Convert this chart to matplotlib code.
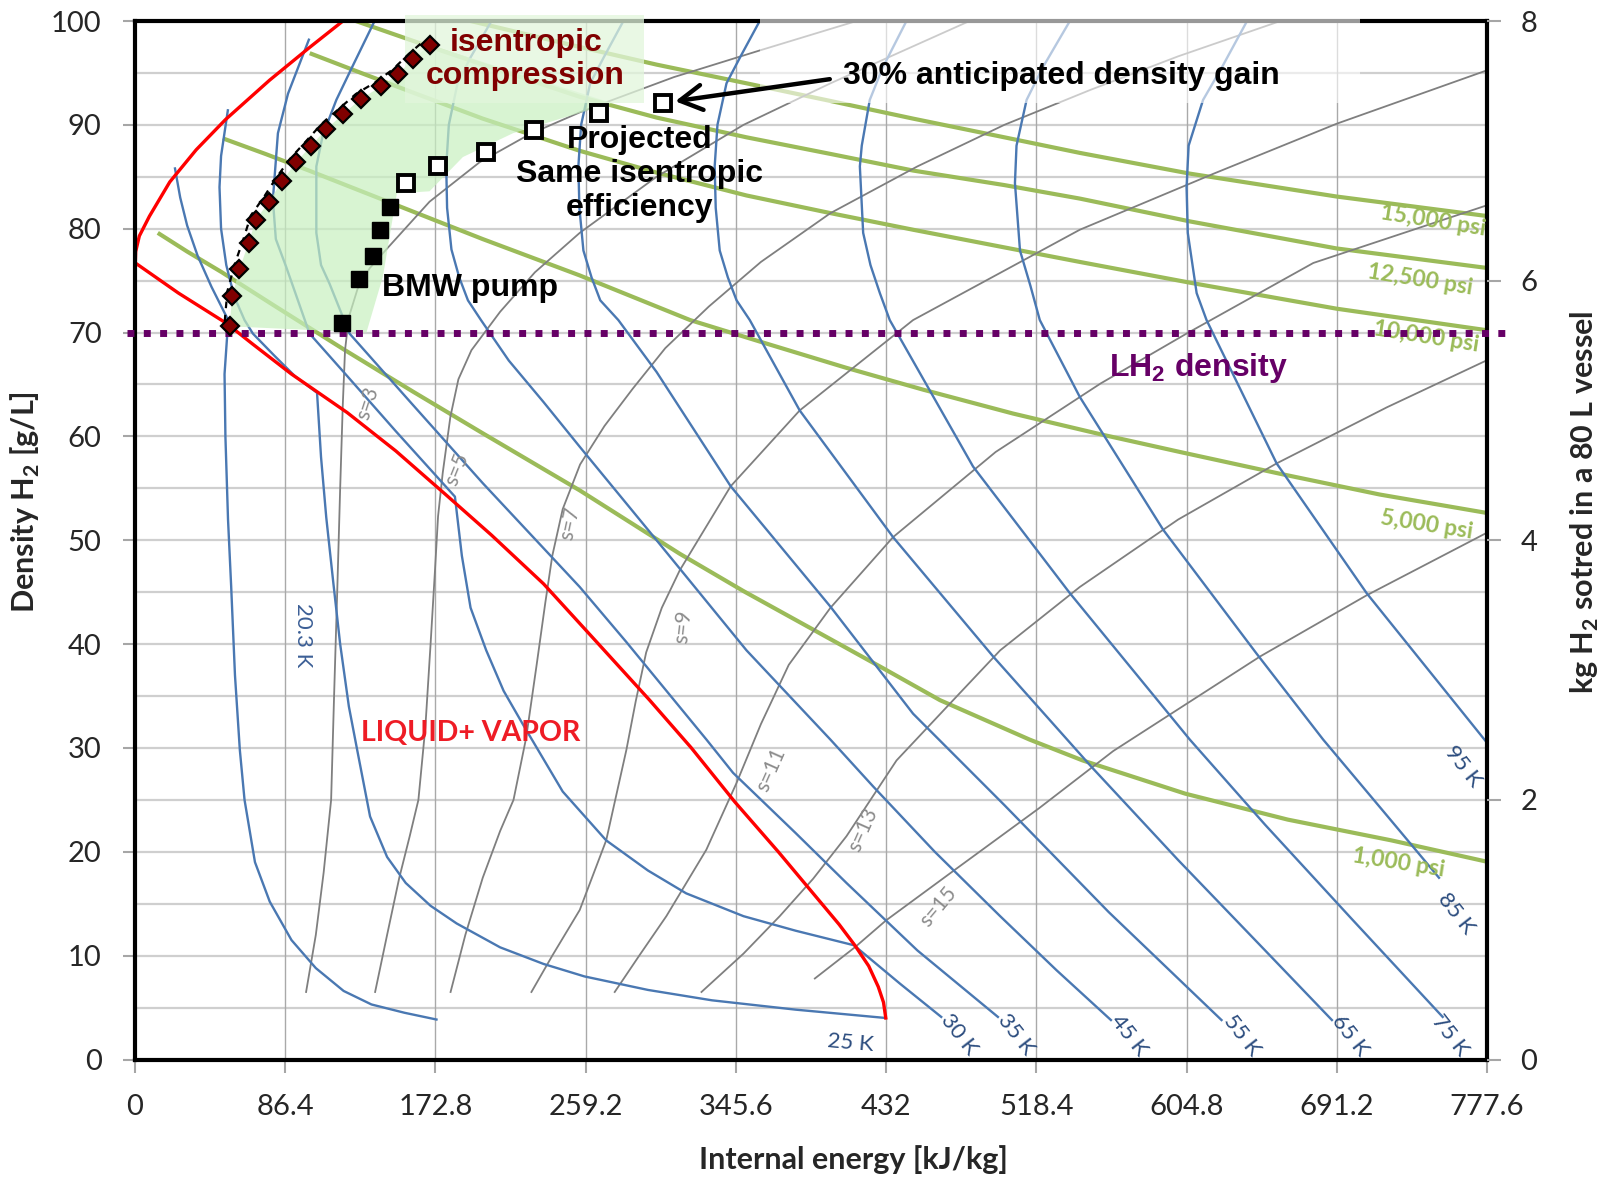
import numpy as np
import matplotlib
matplotlib.use('Agg')
import matplotlib.pyplot as plt
from matplotlib.patches import Rectangle, Polygon
import matplotlib.transforms as mtransforms

plt.rcParams['font.family'] = ['Lato', 'DejaVu Sans']
BOLD = ['Liberation Sans', 'DejaVu Sans']

# --- values: internal energy u [kJ/kg], density rho [g/L] ---

# melting line + saturated liquid line (red)
SAT_U = [119.6, 100, 77.4, 52, 35.2, 20, 8.3, 2.5, 0.4, 0.2, 25, 52.5, 67.6, 90, 122, 150, 178,
         205, 235, 265, 296, 320, 345, 370, 390, 405, 414, 422, 427.5, 430.5, 431.8]
SAT_RHO = [100, 97.4, 94.3, 90.5, 87.6, 84.5, 81.2, 79.3, 77.8, 76.7, 73.8, 70.9, 68.9, 66, 62.3, 58.6, 54.5,
           50.5, 45.8, 40.3, 34.6, 30, 24.8, 20, 16, 13, 11, 9, 7, 5.5, 4]

# isotherms (blue)
T20_LIQ_U = [23, 26, 30, 36, 44, 54.5]
T20_LIQ_RHO = [85.8, 83, 80.3, 77.4, 74.4, 70.9]
T20_U = [53.5, 51.5, 52, 53.5, 55.3, 57.5, 60.3, 63, 69, 77.5, 90, 104, 120, 136, 155, 173.4]
T20_RHO = [70.9, 66, 60, 52, 45.6, 37, 29.8, 25, 19, 15.2, 11.5, 8.8, 6.6, 5.3, 4.5, 3.85]
T25_U = [53.4, 49.5, 48.6, 49.5, 52.5, 57, 63, 67.8, 80, 92, 104.7, 107, 110, 114, 118, 123, 127.8,
         135.2, 145, 155.7, 170, 185, 210, 235, 258.5, 295, 331.8, 380, 431.6]
T25_RHO = [91.4, 87, 84, 80, 76.5, 73.5, 71.2, 69.9, 67.8, 65.8, 64.2, 58, 52.2, 46, 40, 34, 29.8,
           23.4, 19.5, 17, 14.8, 13.1, 10.8, 9.2, 8, 6.7, 5.7, 4.8, 4]
T30_U = [100, 88, 82.2, 79.3, 81, 87, 100.4, 120, 150, 184, 188, 193, 202, 212, 223, 246, 271, 295,
         317, 350, 380, 413.5, 440, 463.7]
T30_RHO = [98.2, 93, 89.2, 82.8, 79, 76.3, 69.9, 66.2, 60.5, 54.2, 48.5, 43.5, 39.4, 35.5, 32.3, 25.8,
           21.1, 18.2, 16, 13.8, 12.4, 11, 7.3, 4.1]
T35_U = [137.8, 125, 115.8, 108, 104.3, 104.3, 107, 111.9, 123.4, 160, 200, 255.8, 282.6, 328.7, 344,
         380, 409.2, 450, 496.3]
T35_RHO = [100, 95.6, 92.4, 89, 86, 79.6, 76.5, 74.7, 69.9, 63, 55.5, 45.5, 40.2, 30.8, 27.6,
           21.8, 17, 10.5, 4.1]
T45_U = [205, 193, 185.5, 180.5, 179, 179.5, 182, 186.5, 191.5, 199, 215, 235, 255.8, 300, 351.7, 400,
         424.5, 460, 497.6, 530, 561.3]
T45_RHO = [100, 96.5, 94, 90, 86, 82, 78, 75.3, 73.1, 71.2, 67.3, 63.3, 59, 50, 39.4, 30.8,
           26.3, 20, 13.8, 8.6, 3.8]
T55_U = [280.9, 269.6, 261.8, 256.6, 255, 255.6, 257.9, 262.6, 267.6, 278, 300, 342.6, 400, 447.5, 500,
         560, 624.9]
T55_RHO = [100, 96.5, 94, 90, 86, 82, 77.9, 75.3, 73.1, 71.2, 66.2, 55.2, 43.6, 33.3, 24.5, 14.2, 3.8]
T65_U = [359.3, 348, 340.2, 335, 333.4, 334, 336.3, 341, 346, 353.6, 382.3, 436, 493.6, 550, 600, 650, 688.4]
T65_RHO = [100, 96.5, 94, 90, 86, 82, 77.9, 75.3, 73.1, 71.2, 62.5, 50.3, 38.8, 28.2, 19.2, 10.5, 3.8]
T75_U = [443.7, 430, 422.6, 418, 416.9, 418.8, 423, 428.4, 434.1, 482, 537.7, 606.7, 650, 700, 752.1]
T75_RHO = [100, 95.5, 92.4, 88, 86, 79.6, 76.5, 73.8, 71.2, 57.1, 44.9, 30.8, 22.6, 13.5, 4.1]
T85_U = [537.7, 522, 512.8, 507, 506.1, 509, 515, 520.4, 543.4, 591.4, 645, 683.4, 720, 750]
T85_RHO = [100, 95.5, 92.4, 88, 84.4, 77.9, 74.5, 71.2, 63.8, 51, 39.1, 30.8, 23.5, 17.5]
T95_U = [639.6, 625, 614.3, 606, 604.8, 605.5, 610.6, 616.3, 656.6, 708.4, 777.6]
T95_RHO = [100, 95.5, 92.4, 88, 84, 79.6, 73.8, 71.2, 57.4, 44.9, 30.5]

# isentropes (grey), s in J/g-K
S3_U = [98.4, 104, 108.5, 112.8, 114.5, 116.3, 118, 119.5, 120.8, 123, 128, 135, 144.5, 169.4, 198.2,
        227, 255.8, 273, 310, 360, 415]
S3_RHO = [6.5, 12, 18, 25, 35, 45, 55, 63, 68.3, 71.5, 74.2, 76.2, 78, 82.6, 86.4,
          89.1, 91.2, 92.3, 94.6, 97.2, 100]
S5_U = [138.1, 145, 152, 158, 163, 167, 170, 172.5, 174.3, 177, 181.4, 186, 193.5, 210, 230, 255.8,
        300, 350, 400, 440, 480]
S5_RHO = [6.5, 12, 17.5, 21.5, 25, 32, 40, 47, 52.3, 56.5, 61.9, 65.5, 68.3, 72, 75.8, 79.6,
          85, 90, 94, 97, 100]
S7_U = [181.5, 190, 200, 210, 217.7, 225, 231, 236, 240, 246, 256, 270, 286.3, 305, 330, 360, 400,
        450, 500, 550, 600, 658.8]
S7_RHO = [6.5, 12, 17.5, 22, 25, 31, 38, 44, 48.5, 53, 57.3, 61, 64.6, 68.5, 72.5, 76.8, 81.5,
          86, 90, 93.4, 96.6, 100]
S9_U = [228, 240, 255.8, 271, 282.6, 288, 294, 303, 313.3, 342.6, 382.3, 447.5, 543.4, 620.4, 691, 778.4]
S9_RHO = [6.5, 10, 14.4, 21.1, 29.8, 34.5, 39.2, 43.5, 47.1, 55.2, 62.5, 71.2, 79.9, 85.3, 90.1, 95.3]
S11_U = [275.9, 290, 305.6, 328.6, 345.9, 360, 376, 400, 436, 495, 555.4, 604.8, 677.7, 778.4]
S11_RHO = [6.5, 10, 13.8, 20.2, 26.6, 32.3, 38, 43.5, 50.3, 58.5, 65.1, 69.9, 76.7, 82.3]
S13_U = [325.8, 350, 370.8, 390, 409.2, 438, 470, 497.6, 543.4, 600, 656.6, 720, 778.4]
S13_RHO = [6.5, 10.2, 13.8, 17.4, 21.5, 28.8, 34.5, 39.4, 45.5, 52, 57.4, 62.8, 67.4]
S15_U = [391, 414, 432, 471, 520, 562.6, 647, 708.4, 778.4]
S15_RHO = [7.8, 10.8, 13.4, 18.2, 24.2, 29.7, 38.8, 44.7, 50.8]

# isobars (green)
P1000_U = [13.1, 30, 50, 80, 120.8, 160, 200, 255.8, 313.3, 350, 390, 430, 463, 514.6, 545, 604, 663,
           722.6, 778.8]
P1000_RHO = [79.6, 77.8, 75.8, 72.6, 68.3, 64.3, 60.3, 54.8, 48.7, 45.1, 41.4, 37.7, 34.6, 30.8, 28.8,
             25.6, 23.1, 21.1, 19.0]
P5000_U = [50.5, 75, 100, 150, 200, 255.8, 319.3, 360, 409.2, 453.3, 505, 555.4, 601, 658.6, 716, 778.5]
P5000_RHO = [88.7, 87.2, 85.6, 82.3, 79, 75.5, 71.2, 69.1, 66.6, 64.5, 62.2, 60.2, 58.5, 56.4, 54.4, 52.6]
P10000_U = [100.5, 130, 160, 200, 255.8, 300, 351.7, 400, 447.5, 500, 543.4, 606.8, 691, 778.5]
P10000_RHO = [96.9, 95, 93.1, 90.6, 87.5, 85.4, 83.2, 81.5, 79.9, 78.2, 76.8, 74.8, 72.3, 70.2]
P12500_U = [127, 170, 200, 255.8, 300, 351.7, 400, 447.5, 500, 543.4, 606.8, 691, 778.5]
P12500_RHO = [100, 97.5, 95.8, 92.7, 90.7, 88.8, 87.2, 85.6, 84.2, 82.9, 80.7, 78.1, 76.2]
P15000_U = [193, 255.8, 300, 351.7, 400, 447.5, 500, 543.4, 606.8, 691, 778.5]
P15000_RHO = [100, 97.5, 95.8, 94, 92.3, 90.6, 88.8, 87.3, 85.3, 83.1, 81.2]

# compression paths
ISEN_U = [54.4, 55.9, 60.1, 65.3, 69.4, 77.0, 84.7, 92.7, 101.4, 110.0, 119.6, 129.8, 141.7, 151.3, 159.9, 169.5]
ISEN_RHO = [70.6, 73.5, 76.1, 78.6, 80.8, 82.6, 84.6, 86.4, 88.0, 89.6, 91.0, 92.5, 93.7, 94.9, 96.3, 97.7]
BMW_U = [119.2, 128.6, 136.8, 141.1, 146.8]
BMW_RHO = [70.9, 75.2, 77.4, 79.9, 82.1]
PROJ_U = [156.0, 174.2, 202.1, 229.5, 266.6, 303.6]
PROJ_RHO = [84.4, 86.0, 87.4, 89.5, 91.1, 92.1]
SHADE_U = ISEN_U + [274.3, 217.5, 188.6, 169.4, 150.6, 142.6, 133.1]
SHADE_RHO = ISEN_RHO + [92.1, 89.2, 86.9, 83.6, 83.4, 75.4, 70.0]
LH2_RHO = 70.0

XTICKS = [0, 86.4, 172.8, 259.2, 345.6, 432, 518.4, 604.8, 691.2, 777.6]
XTICK_LABELS = ['0', '86.4', '172.8', '259.2', '345.6', '432', '518.4', '604.8', '691.2', '777.6']
YTICKS = [0, 10, 20, 30, 40, 50, 60, 70, 80, 90, 100]
KG_TICKS = [0, 2, 4, 6, 8]

ISOTHERMS = [(T20_LIQ_U, T20_LIQ_RHO), (T20_U, T20_RHO), (T25_U, T25_RHO), (T30_U, T30_RHO),
             (T35_U, T35_RHO), (T45_U, T45_RHO), (T55_U, T55_RHO), (T65_U, T65_RHO),
             (T75_U, T75_RHO), (T85_U, T85_RHO), (T95_U, T95_RHO)]
ISENTROPES = [(S3_U, S3_RHO), (S5_U, S5_RHO), (S7_U, S7_RHO), (S9_U, S9_RHO),
              (S11_U, S11_RHO), (S13_U, S13_RHO), (S15_U, S15_RHO)]
ISOBARS = [(P1000_U, P1000_RHO), (P5000_U, P5000_RHO), (P10000_U, P10000_RHO),
           (P12500_U, P12500_RHO), (P15000_U, P15000_RHO)]

W, H = 1606, 1177
fig = plt.figure(figsize=(W / 100, H / 100), dpi=100)
ax = fig.add_axes([135 / W, 1 - 1059.5 / H, 1352 / W, 1038.5 / H])
ax.set_xlim(0, 777.6)
ax.set_ylim(0, 100)

# grid
for y in np.arange(5, 100, 5):
    ax.axhline(y, color='#cfcfcf', lw=1.6, zorder=0.5)
for x in XTICKS[1:-1]:
    ax.axvline(x, color='#a9a9a9', lw=1.0, zorder=0.6)

for u, r in ISOBARS:
    ax.plot(u, r, color='#9bbb59', lw=3.0, zorder=1.5, solid_capstyle='butt')
for u, r in ISENTROPES:
    ax.plot(u, r, color='#7f7f7f', lw=1.3, zorder=1.8)
for u, r in ISOTHERMS:
    ax.plot(u, r, color='#4a78b2', lw=1.7, zorder=2.0)
ax.plot(SAT_U, SAT_RHO, color='#ff0000', lw=2.4, zorder=2.2)

# shaded region + translucent text boxes
ax.add_patch(Polygon(np.column_stack([SHADE_U, SHADE_RHO]), closed=True, facecolor='#c8f0c0',
                     edgecolor='none', alpha=0.7, zorder=3))
ax.add_patch(Rectangle((155.2, 92.1), 293 - 155.2, 8.5, facecolor='#e2f6dc', edgecolor='none',
                       alpha=0.75, zorder=3, clip_on=False))
ax.add_patch(Rectangle((359.4, 92.1), 704.5 - 359.4, 8.5, facecolor='white', edgecolor='none',
                       alpha=0.6, zorder=3, clip_on=False))

# LH2 density line
ax.axhline(LH2_RHO, xmin=-0.006, xmax=1.017, color='#660066', lw=5.0, ls=(0, (1, 1.35)),
           dash_capstyle='butt', clip_on=False, zorder=4)

# paths
off = mtransforms.ScaledTranslation(-3.5 / 72, 3.5 / 72, fig.dpi_scale_trans)
ax.plot(ISEN_U, ISEN_RHO, color='black', lw=1.6, ls=(0, (3, 3)), zorder=4.5,
        transform=ax.transData + off)
ax.plot(ISEN_U, ISEN_RHO, ls='none', marker='D', ms=9, mfc='#800000', mec='black', mew=1.6, zorder=5)
ax.plot(BMW_U, BMW_RHO, ls='none', marker='s', ms=12, mfc='black', mec='black', zorder=5)
ax.plot(PROJ_U, PROJ_RHO, ls='none', marker='s', ms=11, mfc='white', mec='black', mew=2.8, zorder=5)

ax.annotate('', xy=(PROJ_U[-1], PROJ_RHO[-1]), xytext=(399.6, 94.4),
            arrowprops=dict(arrowstyle='->,head_length=0.8,head_width=0.45', lw=3.2, color='black',
                            mutation_scale=20, shrinkA=0, shrinkB=9), zorder=6)

# annotations
tb = dict(family=BOLD, fontweight='bold', fontsize=23, zorder=7)
ax.text(224.7, 96.3, 'isentropic\ncompression', color='#800000', ha='center', va='center',
        linespacing=1.15, **tb)
ax.text(407, 94.7, '30% anticipated density gain', color='black', ha='left', va='center', **tb)
ax.text(290, 85.3, 'Projected\nSame isentropic\nefficiency', color='black', ha='center', va='center',
        linespacing=1.18, **tb)
ax.text(142.3, 74.3, 'BMW pump', color='black', ha='left', va='center', **tb)
ax.text(611.7, 66.6, r'LH$_\mathregular{2}$ density', color='#660066', ha='center', va='center', **tb)
ax.text(192.9, 31.4, 'LIQUID+ VAPOR', color='#ee1c25', ha='center', va='center', fontsize=20.5,
        fontweight='bold', zorder=7)
ax.text(96.6, 40.9, '20.3 K', color='#3c5f96', ha='center', va='center', fontsize=16, rotation=-90,
        zorder=7)

for txt, x, y, rot in [('s=3', 134, 63.2, 72), ('s=5', 185.4, 56.8, 68), ('s=7', 250, 51.6, 78),
                       ('s=9', 315.2, 41.7, 84), ('s=11', 366, 27.9, 66), ('s=13', 418.8, 22.1, 66),
                       ('s=15', 462.2, 14.7, 50)]:
    ax.text(x, y, txt, color='#8c8c8c', fontsize=15, rotation=rot, ha='center', va='center', zorder=7)

for txt, x, y, rot in [('25 K', 411.5, 1.6, -5), ('30 K', 474, 2.4, -52), ('35 K', 506.6, 2.4, -52),
                       ('45 K', 571.7, 2.3, -52), ('55 K', 636.6, 2.3, -52), ('65 K', 698.8, 2.3, -52),
                       ('75 K', 756.3, 2.3, -52), ('85 K', 759.5, 14.1, -52), ('95 K', 763.8, 28.2, -52)]:
    ax.text(x, y, txt, color='#2b4c7e', fontsize=16, rotation=rot, ha='center', va='center', zorder=7)

for txt, x, y in [('15,000 psi', 746.7, 80.7), ('12,500 psi', 739, 75.1), ('10,000 psi', 742.9, 69.6),
                  ('5,000 psi', 742.9, 51.5), ('1,000 psi', 727, 18.9)]:
    ax.text(x, y, txt, color='#9bbb59', fontsize=16.5, fontweight='bold', rotation=-9,
            ha='center', va='center', zorder=3.5)

# axes styling
for s in ['left', 'bottom', 'top', 'right']:
    ax.spines[s].set_linewidth(3)
    ax.spines[s].set_color('black')
ax.set_xticks(XTICKS)
ax.set_xticklabels(XTICK_LABELS)
ax.set_yticks(YTICKS)
ax.tick_params(axis='x', direction='out', length=9, width=1.5, color='#a6a6a6', labelsize=21,
               labelcolor='#262626', pad=16)
ax.tick_params(axis='y', direction='out', length=9, width=1.5, color='#a6a6a6', labelsize=21,
               labelcolor='#262626', pad=15)

ax2 = ax.twinx()
ax2.set_ylim(0, 8)
ax2.set_yticks(KG_TICKS)
for s in ax2.spines.values():
    s.set_visible(False)
ax2.tick_params(axis='y', direction='out', length=10, width=1.5, color='#a6a6a6', labelsize=21,
                labelcolor='#262626', pad=14)

fig.text(853 / W, 1 - 1160 / H, 'Internal energy [kJ/kg]', ha='center', va='center', fontsize=22,
         fontweight='bold', color='#262626')
fig.text(25.6 / W, 1 - 502 / H, r'Density H$_\mathregular{2}$ [g/L]', ha='center', va='center',
         fontsize=22, fontweight='bold', rotation=90, color='#262626')
fig.text(1585 / W, 1 - 502 / H, r'kg H$_\mathregular{2}$ sotred in a 80 L vessel', ha='center',
         va='center', fontsize=22, fontweight='bold', rotation=90, color='#262626')

fig.savefig('out.png', dpi=100)
